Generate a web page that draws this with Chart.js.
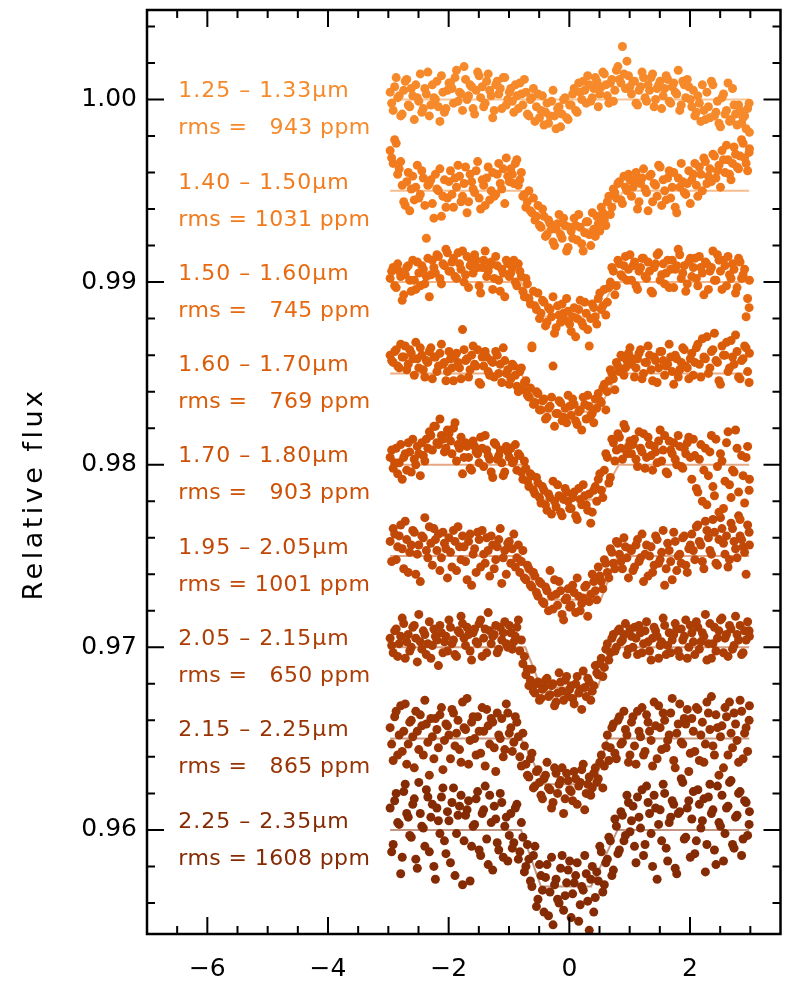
<!DOCTYPE html>
<html>
<head>
<meta charset="utf-8">
<script src="https://cdn.jsdelivr.net/npm/chart.js@4.4.1/dist/chart.umd.min.js"></script>
<style>
  html, body { margin: 0; padding: 0; background: #fff; overflow: hidden; }
  canvas { display: block; }
</style>
</head>
<body>
<canvas id="myChart" width="785" height="987"></canvas>
<script>
"use strict";

// orbital phase of each exposure (hours from mid-transit), two interleaved visits
const TIME_A = [
  -2.97,-2.92,-2.87,-2.82,-2.77,-2.72,-2.67,-2.62,-2.57,-2.52,-2.47,-2.42,-2.37,-2.32,-2.27,-2.22,-2.17,-2.12,-2.07,-2.02,
  -1.97,-1.92,-1.87,-1.82,-1.77,-1.72,-1.67,-1.62,-1.57,-1.52,-1.47,-1.42,-1.37,-1.32,-1.27,-1.22,-1.17,-1.12,-1.07,-1.02,
  -0.97,-0.92,-0.87,-0.82,-0.77,-0.72,-0.67,-0.62,-0.57,-0.52,-0.47,-0.42,-0.37,-0.32,-0.27,-0.22,-0.17,-0.12,-0.07,-0.02,
  0.03,0.08,0.13,0.18,0.23,0.28,0.33,0.38,0.43,0.48,0.53,0.58,0.63,0.68,0.73,0.78,0.83,0.88,0.93,0.98,
  1.03,1.08,1.13,1.18,1.23,1.28,1.33,1.38,1.43,1.48,1.53,1.58,1.63,1.68,1.73,1.78,1.83,1.88,1.93,1.98,
  2.03,2.08,2.13,2.18,2.23,2.28,2.33,2.38,2.43,2.48,2.53,2.58,2.63,2.68,2.73,2.78,2.83,2.88,2.93,2.98
];
const TIME_B = [
  -2.945,-2.895,-2.845,-2.795,-2.745,-2.695,-2.645,-2.595,-2.545,-2.495,-2.445,-2.395,-2.345,-2.295,-2.245,-2.195,-2.145,-2.095,-2.045,-1.995,
  -1.945,-1.895,-1.845,-1.795,-1.745,-1.695,-1.645,-1.595,-1.545,-1.495,-1.445,-1.395,-1.345,-1.295,-1.245,-1.195,-1.145,-1.095,-1.045,-0.995,
  -0.945,-0.895,-0.845,-0.795,-0.745,-0.695,-0.645,-0.595,-0.545,-0.495,-0.445,-0.395,-0.345,-0.295,-0.245,-0.195,-0.145,-0.095,-0.045,0.005,
  0.055,0.105,0.155,0.205,0.255,0.305,0.355,0.405,0.455,0.505,0.555,0.605,0.655,0.705,0.755,0.805,0.855,0.905,0.955,1.005,
  1.055,1.105,1.155,1.205,1.255,1.305,1.355,1.405,1.455,1.505,1.555,1.605,1.655,1.705,1.755,1.805,1.855,1.905,1.955,2.005,
  2.055,2.105,2.155,2.205,2.255,2.305,2.355,2.405,2.455,2.505,2.555,2.605,2.655,2.705,2.755,2.805,2.855,2.905,2.955,2.985
];

const BANDS = ["1.25 \u2013 1.33\u03bcm","1.40 \u2013 1.50\u03bcm","1.50 \u2013 1.60\u03bcm","1.60 \u2013 1.70\u03bcm",
  "1.70 \u2013 1.80\u03bcm","1.95 \u2013 2.05\u03bcm","2.05 \u2013 2.15\u03bcm","2.15 \u2013 2.25\u03bcm","2.25 \u2013 2.35\u03bcm"];
const RMS = [943, 1031, 745, 769, 903, 1001, 650, 865, 1608];
const BASELINE = [1.000, 0.995, 0.990, 0.985, 0.980, 0.975, 0.970, 0.965, 0.960];

// transit model: depth (1e-4) and contact points
const DEPTH = [0, 21, 19, 21, 19, 24, 22, 25, 31];
const T1 = [-0.80, -0.80, -0.80, -0.80, -0.80, -0.80, -0.73, -0.80, -0.80];
const T2 = [-0.47, -0.47, -0.47, -0.46, -0.47, -0.47, -0.47, -0.41, -0.47];
const T3 = [0.47, 0.47, 0.47, 0.47, 0.50, 0.52, 0.47, 0.42, 0.36];
const T4 = [0.90, 0.90, 0.75, 0.80, 0.82, 0.80, 0.68, 0.63, 0.80];

// flux minus baseline, units of 1e-4 (A = TIME_A, B = TIME_B)
const A_125 = [4,-6,12,2,-8,10,-3,6,-11,1,14,-5,3,-9,8,0,-4,13,-7,5,
  9,-2,16,4,-6,11,2,7,-8,15,1,-4,10,5,-10,8,3,-5,12,0,
  6,-7,2,9,-3,4,-9,1,-12,3,-6,-14,-2,-9,5,-16,-4,-8,1,-11,
  -3,6,-7,4,10,-2,8,1,12,-4,7,14,2,9,-1,16,11,29,6,13,
  3,10,-3,7,12,-1,5,14,0,8,-5,6,11,-2,9,3,-6,10,1,7,
  -4,-9,2,-12,-6,4,-10,8,-7,-13,1,-8,9,-11,-3,-14,-6,-10,-16,-2];
const B_125 = [-2,7,1,-9,5,11,-4,2,8,-1,-7,6,15,-3,1,10,-12,4,-5,9,
  6,12,-1,3,18,0,8,-5,5,13,7,-2,14,2,-6,10,6,12,-3,4,
  -1,8,-5,3,11,-8,0,6,-4,-10,2,-7,-13,-1,-9,-5,-15,0,-10,-3,
  3,-6,9,0,5,13,-1,6,10,3,15,8,-2,11,5,18,9,14,21,7,
  10,-2,5,15,1,8,12,-4,6,10,2,13,-1,7,4,16,-3,8,11,0,
  5,-7,-2,8,-11,-4,10,-9,-1,-15,3,-6,-12,6,-8,-3,-13,-9,-5,-18];
const A_140 = [22,15,26,12,3,-8,10,1,-5,14,-2,7,-26,4,-7,9,0,-14,6,-4,
  11,-9,2,8,-3,13,-6,5,-1,16,-10,3,7,-5,10,-2,15,1,-7,8,
  12,4,17,6,-3,-9,0,-12,-16,-8,-20,-14,-24,-18,-28,-21,-13,-26,-19,-31,
  -22,-15,-27,-20,-33,-17,-24,-12,-25,-18,-9,-16,-6,-13,1,-4,5,-7,2,9,
  -3,6,-10,4,12,-1,8,-6,3,14,-8,0,7,-4,10,-12,2,5,-2,11,
  6,15,-3,9,18,4,12,20,7,14,22,10,17,6,24,13,19,26,15,21];
const B_140 = [18,28,9,16,-6,5,-11,8,2,-4,11,-8,3,6,-15,1,12,-3,-9,5,
  -2,7,14,-6,4,-12,9,1,11,-4,6,-8,13,0,-3,9,4,12,18,5,
  9,15,3,10,-2,-6,-11,-4,-14,-19,-10,-25,-16,-21,-30,-18,-24,-15,-33,-20,
  -26,-19,-13,-29,-23,-17,-30,-21,-14,-22,-12,-19,-3,-9,-1,4,-5,8,0,6,
  2,10,-6,7,1,-11,9,4,-3,13,6,-5,11,2,-9,7,15,-1,4,-7,
  9,3,13,0,16,8,5,19,11,2,17,25,9,15,20,12,28,18,11,23];
const A_150 = [2,8,-3,6,-10,4,9,-5,1,11,-2,7,3,-8,12,5,14,-1,9,16,
  6,13,2,10,17,4,-3,11,15,8,-6,12,3,9,-4,14,1,7,-8,10,
  5,12,-2,6,-5,2,-9,-35,-13,-6,-17,-11,-22,-15,-8,-25,-18,-12,-21,-16,
  -27,-14,-20,-10,-24,-17,-35,-12,-19,-9,-15,-4,-11,0,6,-2,10,3,14,7,
  1,11,-4,8,13,2,6,-6,10,16,4,-1,12,7,-3,9,15,5,-5,11,
  3,13,-2,8,-7,10,6,17,1,12,-4,9,14,2,7,-3,11,4,-19,-14];
const B_150 = [6,-2,10,3,-7,8,1,12,-4,5,9,-1,13,4,8,15,2,10,18,6,
  11,3,16,7,0,14,9,5,12,-2,8,17,6,11,2,9,-5,5,12,3,
  8,0,10,3,-8,-1,-12,-5,-15,-20,-10,-24,-14,-19,-28,-13,-22,-17,-9,-23,
  -19,-30,-15,-22,-11,-26,-20,-14,-23,-6,-13,-18,-3,8,-7,12,4,9,1,15,
  9,-2,6,13,3,11,-5,8,15,1,10,5,-3,12,7,18,2,9,-1,13,
  8,2,14,5,11,-4,8,1,15,6,12,-2,4,10,-6,13,2,7,-9,1];
const A_160 = [10,6,13,3,9,15,5,11,-1,8,14,2,7,12,-3,9,4,16,6,1,
  8,-4,11,3,24,7,-2,10,5,13,-6,4,9,-1,6,12,0,-5,7,2,
  -3,4,-7,1,-9,-4,-13,14,-16,-11,-20,-14,-24,-18,4,-22,-15,-26,-19,-12,
  -23,-17,-28,-20,-13,-25,-18,-22,-14,-11,-16,-6,-10,2,-3,6,1,9,3,11,
  5,-2,8,13,0,6,10,-4,7,3,12,-1,5,9,-6,8,2,14,4,-3,
  11,6,16,-2,9,20,3,13,7,-4,15,10,1,18,5,12,-3,8,14,-5];
const B_160 = [7,12,4,16,9,2,13,8,17,3,10,-2,6,14,9,1,11,5,-4,12,
  3,10,6,-3,13,8,2,15,4,-5,9,12,1,7,-2,10,5,14,0,-6,
  5,-1,-10,3,-5,-12,-8,-17,-10,-20,-15,-25,-19,-13,-29,-22,-16,-24,-27,-18,
  -14,-26,-21,-31,-17,-12,-23,-27,-19,-15,-8,-20,-4,0,-9,4,10,-1,7,14,
  8,3,11,-3,6,15,2,9,-5,12,7,4,16,1,10,-2,6,13,3,8,
  -1,14,5,19,8,0,12,22,6,-6,10,17,3,9,21,-2,7,15,1,11];
const A_170 = [4,-2,9,1,-8,6,12,-4,3,10,-6,5,14,18,8,21,11,16,7,19,
  13,20,2,9,-5,12,4,-3,10,6,15,-1,8,3,-7,11,5,1,-4,7,
  9,2,-3,5,-8,-2,-12,-6,-16,-10,-21,-14,-25,-18,-9,-23,-17,-28,-13,-20,
  -24,-15,-30,-19,-11,-22,-16,-26,-12,-8,-14,-3,4,-7,12,8,15,3,20,10,
  6,14,-1,9,17,4,11,-3,7,13,2,16,-5,8,12,0,10,-2,6,15,
  -8,5,-15,11,-3,-22,7,-12,14,-26,2,-9,18,-18,-4,9,-30,-6,4,-14];
const B_170 = [8,1,-5,11,4,-3,7,14,0,6,12,2,9,16,21,12,25,14,9,17,
  6,23,11,15,4,10,-2,13,7,1,9,16,5,-4,12,3,8,-6,10,4,
  1,11,6,-4,2,-9,-5,-14,-7,-18,-12,-22,-16,-27,-20,-11,-26,-19,-15,-24,
  -18,-28,-13,-22,-17,-25,-32,-14,-20,-5,-18,6,-10,14,2,17,9,22,6,13,
  11,3,18,7,-2,15,5,10,1,19,8,-4,13,6,3,16,-1,9,12,4,
  14,-13,3,-20,9,-6,16,-17,-1,6,-24,12,-11,-3,19,-15,5,-21,10,-8];
const A_195 = [8,15,-2,11,4,19,-9,6,13,1,-14,10,3,16,-5,9,12,-1,7,-12,
  2,14,-8,5,11,-3,8,-16,4,13,-6,1,10,-11,6,-2,9,-15,3,7,
  -4,12,-1,-9,3,-13,-7,-17,-11,-22,-15,-26,-19,-8,-29,-21,-14,-32,-24,-18,
  -27,-20,-12,-30,-23,-16,-25,-10,-19,-6,-14,-2,-9,4,-4,8,1,-7,5,-12,
  3,-6,9,-1,-14,6,0,-9,11,-4,2,-16,7,-3,13,-8,1,10,-5,4,
  12,-2,17,6,-7,14,3,20,-4,9,15,1,-6,18,8,-1,11,5,-10,13];
const B_195 = [-3,12,5,17,-7,9,2,14,-10,6,11,21,-1,7,15,3,-8,13,4,10,
  -6,8,16,-2,5,-13,12,1,-9,9,14,-4,3,11,-7,5,15,-1,-10,8,
  4,-6,6,-3,-12,-5,-16,-9,-20,-14,-25,-17,-30,-22,-13,-27,-19,-35,-23,-28,
  -16,-31,-22,-26,-17,-33,-21,-14,-24,-11,-18,-4,-12,2,-7,7,-3,10,-1,4,
  -8,6,-3,12,1,-11,5,-5,9,-2,14,-7,3,-13,8,0,-4,11,-9,6,
  3,16,8,-3,19,10,1,13,-5,21,7,11,-2,15,4,22,9,2,17,6];
const A_205 = [5,-3,10,2,16,-6,7,0,12,-8,3,9,-4,14,1,6,-10,8,3,-2,
  11,4,-5,8,13,1,7,-7,10,2,15,5,-3,9,6,12,-1,4,14,0,
  8,3,11,-2,-9,-15,-21,-12,-25,-19,-28,-22,-17,-26,-20,-30,-14,-24,-18,-27,
  -21,-31,-16,-23,-13,-27,-19,-24,-10,-15,-6,-11,2,-3,7,0,10,4,13,-1,
  6,11,-4,8,2,14,-2,5,9,-6,3,12,1,-3,7,10,-5,4,15,0,
  8,-4,11,3,6,-7,13,2,-2,9,16,5,-5,10,1,7,12,-3,4,9];
const B_205 = [1,9,-5,6,13,3,-2,11,5,18,-1,7,2,-6,10,4,12,-3,6,15,
  2,-4,9,17,5,11,-2,8,3,13,-5,10,19,2,7,-3,11,8,2,12,
  -1,6,15,4,-5,-12,-18,-24,-20,-29,-23,-18,-27,-21,-32,-25,-19,-29,-16,-23,
  -28,-20,-25,-34,-22,-17,-29,-21,-14,-9,-16,-1,-7,5,-2,9,3,7,-4,10,
  0,5,12,-3,9,3,-7,11,6,1,16,-4,8,4,13,-2,10,6,-6,12,
  3,14,-1,8,18,2,-6,11,5,15,-3,7,12,-1,17,4,-4,9,14,6];
const A_215 = [6,-12,15,2,-7,19,-3,10,-16,4,13,-9,8,-20,1,11,-5,17,-1,7,
  -11,14,3,-6,20,5,-14,9,0,12,-8,4,16,-3,9,-18,2,11,-6,14,
  6,-2,9,-10,3,-14,-21,-8,-26,-17,-31,-22,-13,-28,-35,-19,-25,-16,-33,-23,
  -29,-18,-36,-24,-14,-30,-21,-27,-16,-22,-9,-15,2,-5,8,-11,12,-2,5,-13,
  9,-4,15,1,-9,13,4,-15,7,18,-6,10,-1,14,-12,3,19,-3,8,-18,
  11,-7,16,2,-13,20,5,-4,13,-20,7,17,-9,3,14,-1,21,-11,6,10];
const B_215 = [-3,12,-9,18,4,-14,9,1,15,-6,7,21,-2,11,-11,5,13,-17,8,2,
  16,-4,10,-13,6,22,-1,12,-9,4,17,-15,7,11,-5,14,0,-10,19,3,
  -7,12,1,-15,-4,-20,-11,-27,-18,-24,-33,-20,-27,-38,-16,-30,-23,-41,-19,-28,
  -34,-22,-26,-17,-39,-25,-31,-19,-24,-13,-27,-4,-12,6,-8,10,-3,15,2,-9,
  12,-14,4,17,-7,9,-1,20,-11,6,14,-5,2,22,-16,8,-2,11,16,-8,
  4,17,-12,9,-3,14,23,-9,6,1,-16,12,20,-5,8,-13,15,3,-7,18];
const A_225 = [12,-8,20,3,-15,25,7,-4,17,-21,9,1,22,-12,14,-27,5,18,-6,10,
  -18,23,-2,13,-30,8,16,-9,3,21,-14,11,-5,19,-22,6,-11,15,2,-17,
  9,-7,14,-12,-4,-20,-16,-31,-9,-38,-25,-45,-19,-34,-52,-27,-40,-14,-36,-22,
  -48,-29,-18,-41,-33,-24,-55,-20,-37,-28,-12,-30,-16,-6,-22,2,-11,8,-3,15,
  5,-9,18,1,-14,24,9,-20,12,3,-6,20,-17,7,14,-24,10,26,-4,16,
  6,-13,22,1,17,-8,25,11,-19,4,19,-2,13,27,-10,8,21,-5,15,3];
const B_225 = [-12,16,4,-24,21,9,-3,14,-16,26,2,-9,18,7,-20,12,-2,23,-13,5,
  15,-25,8,19,-6,11,-28,2,17,-11,9,24,-19,4,13,-7,20,-15,7,-3,
  -10,12,-16,4,-23,-8,-28,-14,-42,-19,-33,-26,-47,-15,-30,-38,-21,-44,-29,-17,
  -35,-25,-50,-31,-14,-39,-27,-45,-23,-9,-34,-18,-4,-25,6,-13,10,-6,19,-1,
  13,-18,7,22,-8,15,-2,19,-27,11,25,-10,4,16,-21,9,28,-5,12,-15,
  21,-6,14,5,-23,18,9,-11,24,2,-17,12,26,-8,7,20,-14,16,-3,10];
const RES_A = [A_125, A_140, A_150, A_160, A_170, A_195, A_205, A_215, A_225];
const RES_B = [B_125, B_140, B_150, B_160, B_170, B_195, B_205, B_215, B_225];

const COLORS = ["#F68A2B","#F27B1D","#E86A10","#DA5C09","#CD5005","#C14807","#AC3E05","#983404","#842B04"];
const MODEL_COLORS = ["rgba(246,138,43,0.5)","rgba(242,123,29,0.5)","rgba(232,106,16,0.5)","rgba(218,92,9,0.5)",
  "rgba(205,80,5,0.5)","rgba(193,72,7,0.5)","rgba(172,62,5,0.5)","rgba(152,52,4,0.5)","rgba(132,43,4,0.5)"];

const X_TICKS = [-6, -4, -2, 0, 2];
const Y_TICKS = [0.96, 0.97, 0.98, 0.99, 1.00];
const X_MIN = -7, X_MAX = 3.5;
const Y_MIN = 0.9543, Y_MAX = 1.0049;
const LABEL_X = -6.48;
const FONT = "'DejaVu Sans'";

document.addEventListener("DOMContentLoaded", init);

function init()
{
    let datasets = [];
    // points first so they sit on top of the model lines
    BASELINE.forEach((base, k) => {
        let pts = TIME_A.map((t, i) => ({x: t, y: base + RES_A[k][i] * 1e-4}))
            .concat(TIME_B.map((t, i) => ({x: t, y: base + RES_B[k][i] * 1e-4})));
        datasets.push({
            type: "scatter",
            data: pts,
            backgroundColor: COLORS[k],
            borderWidth: 0,
            pointRadius: 4.5,
            pointHoverRadius: 4.5,
            order: 0
        });
    });
    BASELINE.forEach((base, k) => {
        let low = base - DEPTH[k] * 1e-4;
        datasets.push({
            type: "line",
            data: [
                {x: TIME_A[0], y: base}, {x: T1[k], y: base}, {x: T2[k], y: low},
                {x: T3[k], y: low}, {x: T4[k], y: base}, {x: TIME_A[TIME_A.length - 1], y: base}
            ],
            borderColor: MODEL_COLORS[k],
            borderWidth: 2,
            pointRadius: 0,
            fill: false,
            order: 1
        });
    });

    const frame = {
        id: "frame",
        afterDraw(chart) {
            const {ctx, chartArea: a, scales: {x, y}} = chart;
            ctx.save();
            ctx.strokeStyle = "#000";
            ctx.lineWidth = 2.5;
            ctx.strokeRect(a.left, a.top, a.right - a.left, a.bottom - a.top);
            ctx.lineWidth = 2;
            ctx.beginPath();
            for (let v = X_MIN + 0.5; v < X_MAX; v += 0.5) {
                let major = X_TICKS.includes(v);
                let len = major ? 17 : 8;
                let px = x.getPixelForValue(v);
                ctx.moveTo(px, a.bottom); ctx.lineTo(px, a.bottom - len);
                ctx.moveTo(px, a.top); ctx.lineTo(px, a.top + len);
            }
            for (let n = 478; n <= 502; n++) {
                let v = n / 500;
                let major = n % 5 === 0;
                let len = major ? 17 : 8;
                let py = y.getPixelForValue(v);
                ctx.moveTo(a.left, py); ctx.lineTo(a.left + len, py);
                ctx.moveTo(a.right, py); ctx.lineTo(a.right - len, py);
            }
            ctx.stroke();

            // band labels
            ctx.font = "22px " + FONT;
            ctx.textAlign = "left";
            ctx.textBaseline = "middle";
            let lx = x.getPixelForValue(LABEL_X);
            BASELINE.forEach((base, k) => {
                let py = y.getPixelForValue(base);
                ctx.fillStyle = COLORS[k];
                ctx.letterSpacing = "1px";
                ctx.fillText(BANDS[k], lx, py - 8);
                let num = String(RMS[k]);
                let pad = num.length < 4 ? "  " : "";
                ctx.letterSpacing = "0.4px";
                ctx.fillText("rms = " + pad + num + " ppm", lx, py + 29);
            });

            // y axis title
            ctx.fillStyle = "#000";
            ctx.font = "27px " + FONT;
            ctx.letterSpacing = "3.5px";
            ctx.textAlign = "center";
            ctx.translate(35, 494);
            ctx.rotate(-Math.PI / 2);
            ctx.fillText("Relative flux", 0, 0);
            ctx.restore();
        }
    };

    new Chart(document.getElementById("myChart"), {
        type: "scatter",
        data: {datasets: datasets},
        options: {
            responsive: false,
            animation: false,
            events: [],
            layout: {padding: {top: 10, right: 1, left: 0, bottom: 0}},
            plugins: {legend: {display: false}, tooltip: {enabled: false}},
            scales: {
                x: {
                    type: "linear",
                    min: X_MIN,
                    max: X_MAX,
                    afterBuildTicks: s => { s.ticks = X_TICKS.map(v => ({value: v})); },
                    afterFit: s => { s.height = 53; s.paddingLeft = 0; s.paddingRight = 0; },
                    grid: {display: false, drawTicks: false},
                    border: {display: false},
                    ticks: {
                        padding: 20,
                        color: "#000",
                        font: {family: FONT, size: 25},
                        callback: v => (v < 0 ? "\u2212" + Math.abs(v) : String(v))
                    }
                },
                y: {
                    type: "linear",
                    min: Y_MIN,
                    max: Y_MAX,
                    afterBuildTicks: s => { s.ticks = Y_TICKS.map(v => ({value: v})); },
                    afterFit: s => { s.width = 147; s.paddingTop = 0; s.paddingBottom = 0; },
                    grid: {display: false, drawTicks: false},
                    border: {display: false},
                    ticks: {
                        padding: 10,
                        color: "#000",
                        font: {family: FONT, size: 25},
                        callback: v => v.toFixed(2)
                    }
                }
            }
        },
        plugins: [frame]
    });
}
</script>
</body>
</html>
